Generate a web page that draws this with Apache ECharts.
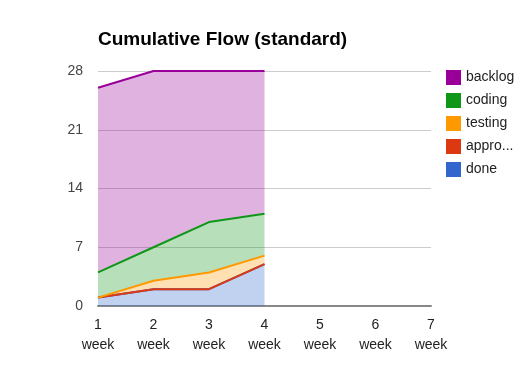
<!DOCTYPE html>
<html>
<head>
<meta charset="utf-8">
<script src="https://cdn.jsdelivr.net/npm/echarts@6/dist/echarts.min.js"></script>
<style>
  html, body { margin: 0; padding: 0; background: #fff; }
  #main { width: 524px; height: 375px; }
</style>
</head>
<body>
<div id="main"></div>
<script>
// stacked from the bottom: done first, backlog last
var weeks = ['1', '2', '3', '4', '5', '6', '7'];
var done = [1, 2, 2, 5];
var approved = [0, 0, 0, 0];
var testing = [0, 1, 2, 1];
var coding = [3, 4, 6, 5];
var backlog = [22, 21, 18, 17];
var yTicks = [0, 7, 14, 21, 28];

var font = '"Liberation Sans", Arial, sans-serif';

function areaSeries(name, data, color) {
    return {
        name: name,
        type: 'line',
        stack: 'flow',
        data: data,
        showSymbol: false,
        symbol: 'none',
        lineStyle: { width: 2, color: color },
        itemStyle: { color: color },
        areaStyle: { color: color, opacity: 0.3 }
    };
}

var myChart = echarts.init(document.getElementById('main'));
myChart.setOption({
    animation: false,
    title: {
        text: 'Cumulative Flow (standard)',
        left: 93,
        top: 25,
        textStyle: { fontFamily: font, fontSize: 19, fontWeight: 'bold', color: '#000' }
    },
    legend: {
        orient: 'vertical',
        left: 441,
        top: 65,
        icon: 'rect',
        itemWidth: 15,
        itemHeight: 15,
        itemGap: 8,
        data: ['backlog', 'coding', 'testing', 'approved', 'done'],
        textStyle: {
            fontFamily: font, fontSize: 14, color: '#222',
            width: 50, overflow: 'truncate', ellipsis: '...'
        }
    },
    grid: { left: 98, right: 93, top: 71, bottom: 69, containLabel: false },
    xAxis: {
        type: 'category',
        boundaryGap: false,
        data: weeks,
        axisLine: { lineStyle: { color: '#888', width: 2 } },
        axisTick: { show: false },
        axisLabel: {
            formatter: function (v) { return v + '\nweek'; },
            fontFamily: font, fontSize: 14, color: '#222',
            lineHeight: 20, margin: 9, interval: 0
        },
        splitLine: { show: false }
    },
    yAxis: {
        type: 'value',
        min: yTicks[0],
        max: yTicks[yTicks.length - 1],
        interval: yTicks[1] - yTicks[0],
        axisLine: { show: false },
        axisTick: { show: false },
        axisLabel: { fontFamily: font, fontSize: 14, color: '#444', margin: 15 },
        splitLine: { lineStyle: { color: '#ccc', width: 1 } }
    },
    series: [
        areaSeries('done', done, '#3366cc'),
        areaSeries('approved', approved, '#dc3912'),
        areaSeries('testing', testing, '#ff9900'),
        areaSeries('coding', coding, '#109618'),
        areaSeries('backlog', backlog, '#990099')
    ]
});
</script>
</body>
</html>
